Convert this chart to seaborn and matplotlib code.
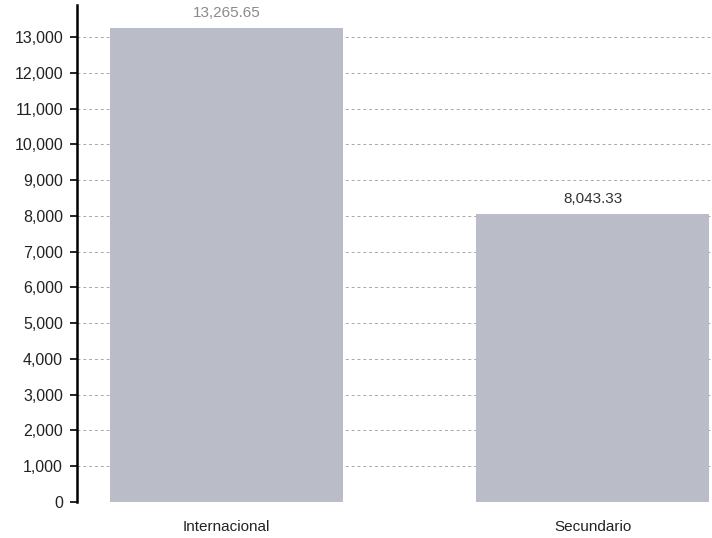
import matplotlib
matplotlib.use("Agg")
import matplotlib.pyplot as plt
import seaborn as sns
import pandas as pd
from matplotlib.ticker import FuncFormatter, MultipleLocator

categories = ["Internacional", "Secundario"]
values = [13265.65, 8043.33]
value_labels = ["13,265.65", "8,043.33"]

sns.set_theme(style="white")
plt.rcParams['font.family'] = ['Liberation Sans', 'DejaVu Sans']

df = pd.DataFrame({"cat": categories, "val": values})

fig = plt.figure(figsize=(7.12, 5.38), dpi=100)
ax = fig.add_axes([0.108, 0.067, 0.892, 0.924])
ax.set_axisbelow(True)
ax.yaxis.grid(True, linestyle=(0, (3, 3)), color="#a8a8a8", linewidth=0.7)
sns.barplot(data=df, x="cat", y="val", color="#babdc8", width=0.636, ax=ax,
            saturation=1, edgecolor="none")

ax.set_ylim(0, 13900)
ax.set_xlim(-0.408, 1.325)
ax.yaxis.set_major_locator(MultipleLocator(1000))
ax.yaxis.set_major_formatter(FuncFormatter(lambda v, p: f"{int(v):,}"))
ax.set_xlabel("")
ax.set_ylabel("")

for s in ["top", "right", "bottom"]:
    ax.spines[s].set_visible(False)
ax.spines["left"].set_color("black")
ax.spines["left"].set_linewidth(1.8)
ax.tick_params(axis="y", which="major", left=True, length=5, width=1.2, color="black",
               labelsize=11.5, labelcolor="#222222", pad=5)
ax.tick_params(axis="x", bottom=False, labelsize=11, labelcolor="#222222", pad=7)

label_colors = ["#8a8a8a", "#333333"]
for i, (v, t) in enumerate(zip(values, value_labels)):
    ax.text(i, v + 220, t, ha="center", va="bottom", fontsize=11, color=label_colors[i])

fig.savefig("out.png", dpi=100)
